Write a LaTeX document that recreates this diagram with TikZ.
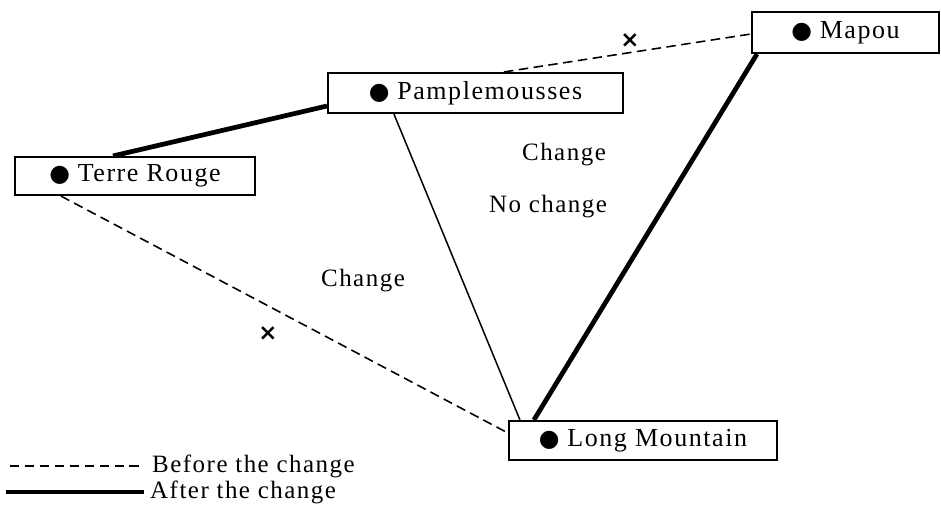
\documentclass[tikz,border=0pt]{standalone}
\usepackage{fontspec}
\setmainfont[LetterSpace=6]{Liberation Serif}
\newfontfamily\symfont{DejaVu Sans}
\usepackage{tikz}
\usetikzlibrary{positioning}
\newcommand{\blt}{{\symfont\fontsize{13.5}{14}\selectfont ●}\hspace{0.3em}}
\tikzset{town/.style={rectangle,draw=black,line width=1.2pt,inner sep=0pt,align=center,font=\fontsize{14.8}{16}\selectfont},
lbl/.style={font=\fontsize{14.2}{16}\selectfont},
cross/.style={font=\symfont\bfseries\fontsize{13}{14}\selectfont,inner sep=0pt},
before/.style={line width=0.9pt,dash pattern=on 5.4pt off 3.1pt},
after/.style={line width=2.7pt},
plain/.style={line width=0.85pt}}
\begin{document}
\begin{tikzpicture}
\useasboundingbox (0,0) rectangle (18.82,10.38);
\node at (2.70,6.86)[town,minimum width=4.8cm,minimum height=0.76cm](tr){\blt Terre Rouge};
\node at (9.51,8.52)[town,minimum width=5.9cm,minimum height=0.80cm](pm){\blt Pamplemousses};
\node at (16.91,9.73)[town,minimum width=3.74cm,minimum height=0.82cm](mp){\blt Mapou};
\node at (12.86,1.57)[town,minimum width=5.36cm,minimum height=0.78cm](lm){\blt Long Mountain};
\draw[after] ([xshift=-0.44cm]tr.north) -- ([yshift=-0.26cm]pm.west);
\draw[before] ([xshift=0.57cm]pm.north) -- ([yshift=-0.03cm]mp.west);
\draw[after] ([xshift=0.12cm]mp.south west) -- ([xshift=0.52cm]lm.north west);
\draw[plain] ([xshift=1.34cm]pm.south west) -- ([xshift=0.24cm]lm.north west);
\draw[before] ([xshift=0.94cm]tr.south west) -- ([yshift=0.15cm]lm.west);
\node at (12.60,9.56)[cross](x1){×};
\node at (5.36,3.70)[cross](x2){×};
\node at (11.28,7.28)[lbl](c1){Change};
\node at (10.96,6.24)[lbl](nc){No change};
\node at (7.26,4.76)[lbl](c2){Change};
\coordinate (b0) at (0.2,1.06);
\coordinate (a0) at (0.12,0.54);
\node[lbl,anchor=west] at (2.92,1.06)(btxt){Before the change};
\node[lbl,anchor=west] at (2.88,0.54)(atxt){After the change};
\draw[before] (b0) -- ([xshift=-0.14cm]btxt.west);
\draw[after] (a0) -- (atxt.west);
\end{tikzpicture}
\end{document}
